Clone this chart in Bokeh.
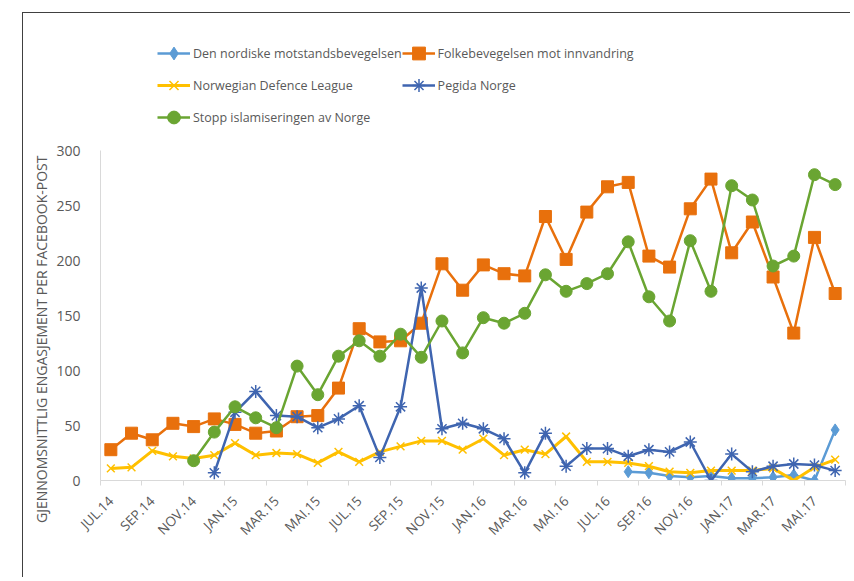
import math
import numpy as np
from bokeh.plotting import figure
from bokeh.models import (Range1d, FixedTicker, LinearAxis, Legend, LegendItem,
                          ColumnDataSource, Title)
from bokeh.embed import file_html
from bokeh.resources import INLINE

months = ["JUL.14", "AUG.14", "SEP.14", "OKT.14", "NOV.14", "DES.14",
          "JAN.15", "FEB.15", "MAR.15", "APR.15", "MAI.15", "JUN.15",
          "JUL.15", "AUG.15", "SEP.15", "OKT.15", "NOV.15", "DES.15",
          "JAN.16", "FEB.16", "MAR.16", "APR.16", "MAI.16", "JUN.16",
          "JUL.16", "AUG.16", "SEP.16", "OKT.16", "NOV.16", "DES.16",
          "JAN.17", "FEB.17", "MAR.17", "APR.17", "MAI.17", "JUN.17"]

den_nordiske = [None] * 25 + [8, 7, 4, 3, 4, 2, 2, 3, 5, 0, 46]
folkebevegelsen = [28, 43, 37, 52, 49, 56, 51, 43, 45, 58, 59, 84,
                   138, 126, 127, 143, 197, 173, 196, 188, 186, 240, 201, 244,
                   267, 271, 204, 194, 247, 274, 207, 235, 185, 134, 221, 170]
ndl = [11, 12, 27, 22, 20, 23, 34, 23, 25, 24, 16, 26,
       17, 26, 31, 36, 36, 28, 38, 23, 28, 24, 40, 17,
       17, 16, 13, 8, 7, 9, 9, 9, 11, 0, 12, 19]
pegida = [None] * 5 + [7, 62, 81, 59, 58, 48, 56,
                       68, 21, 67, 175, 47, 52, 47, 38, 7, 43, 13, 29,
                       29, 22, 28, 26, 35, 0, 24, 8, 13, 15, 14, 9]
stopp = [None] * 4 + [18, 44, 67, 57, 48, 104, 78, 113,
                      127, 113, 133, 112, 145, 116, 148, 143, 152, 187, 172, 179,
                      188, 217, 167, 145, 218, 172, 268, 255, 195, 204, 278, 269]

series_names = ["Den nordiske motstandsbevegelsen", "Folkebevegelsen mot innvandring",
                "Norwegian Defence League", "Pegida Norge", "Stopp islamiseringen av Norge"]
y_ticks = [0, 50, 100, 150, 200, 250, 300]
y_title = "GJENNOMSNITTLIG ENGASJEMENT PER FACEBOOK-POST"

FONT = "Open Sans"
GREY = "#595959"

# frame spans from window y=30 (legend area) to y=480; value 300 sits at y=150
Y_TOP = 300 * (480 - 30) / (480 - 150)

p = figure(width=828, height=565, output_backend="svg", toolbar_location=None,
           x_range=Range1d(-0.5, len(months) - 0.5), y_range=Range1d(0, Y_TOP),
           min_border_left=77, min_border_right=6, min_border_top=17,
           min_border_bottom=98, x_axis_type=None, y_axis_type=None)
p.outline_line_color = None
p.background_fill_color = "white"
p.border_fill_color = "white"
p.margin = (12, 0, 0, 22)
p.styles = {"border-left": "1px solid #404040", "border-top": "1px solid #404040"}

# y axis
yax = LinearAxis(ticker=FixedTicker(ticks=y_ticks), bounds=(0, 300))
yax.axis_line_color = "#d9d9d9"
yax.major_tick_line_color = None
yax.minor_tick_line_color = None
yax.major_label_standoff = 14
yax.major_label_text_font = FONT
yax.major_label_text_font_size = "14px"
yax.major_label_text_color = GREY
p.add_layout(yax, "left")
p.ygrid.grid_line_color = "#d9d9d9"
p.ygrid.ticker = FixedTicker(ticks=y_ticks)

# y axis title, as a side title
ttl = Title(text=y_title, align="right", offset=125, standoff=6,
            text_font=FONT, text_font_size="14px", text_font_style="normal",
            text_color=GREY)
p.add_layout(ttl, "left")

# x axis: tick marks at category boundaries
n = len(months)
bounds = [i - 0.5 for i in range(0, n + 1, 2)]
xax_ticks = LinearAxis(ticker=FixedTicker(ticks=bounds))
xax_ticks.axis_line_color = "#d9d9d9"
xax_ticks.major_tick_line_color = "#d9d9d9"
xax_ticks.major_tick_out = 5
xax_ticks.major_tick_in = 0
xax_ticks.minor_tick_line_color = None
xax_ticks.major_label_overrides = {b: "" for b in bounds}
xax_ticks.major_label_standoff = 0
p.add_layout(xax_ticks, "below")

# x axis: labels at category centers
label_pos = list(range(0, n, 2))
xax_lab = LinearAxis(ticker=FixedTicker(ticks=label_pos))
xax_lab.axis_line_color = None
xax_lab.major_tick_line_color = None
xax_lab.minor_tick_line_color = None
xax_lab.major_label_overrides = {i: months[i] for i in label_pos}
xax_lab.major_label_orientation = math.pi / 4
xax_lab.major_label_text_font = FONT
xax_lab.major_label_text_font_size = "13.5px"
xax_lab.major_label_text_color = GREY
xax_lab.major_label_standoff = 7
p.add_layout(xax_lab, "below")

x_all = np.arange(n)


def src(vals):
    arr = np.array([np.nan if v is None else v for v in vals], dtype=float)
    return ColumnDataSource(dict(x=x_all, y=arr))


styles = [
    (den_nordiske, "#5B9BD5", "diamond", 12, 2.5),
    (folkebevegelsen, "#E8700C", "square", 12, 2.5),
    (ndl, "#FFC000", "x", 11, 3),
    (pegida, "#3F65B0", "asterisk", 13, 2.5),
    (stopp, "#6AA532", "circle", 12, 2.5),
]

items = {}
for name, (vals, color, marker, size, lw) in zip(series_names, styles):
    s = src(vals)
    ln = p.line("x", "y", source=s, line_color=color, line_width=lw, line_join="round")
    if marker in ("x", "asterisk"):
        sc = p.scatter("x", "y", source=s, marker=marker, size=size,
                       line_color=color, line_width=1.5, fill_color=None)
    else:
        sc = p.scatter("x", "y", source=s, marker=marker, size=size,
                       line_color=color, fill_color=color)
    items[name] = LegendItem(label=name, renderers=[ln, sc])

# legend fills column by column: rows read Den|Folk, NDL|Pegida, Stopp
legend_order = [series_names[0], series_names[2], series_names[4],
                series_names[1], series_names[3]]
legend = Legend(items=[items[k] for k in legend_order], location=(57, 347),
                orientation="vertical", ncols=2,
                label_text_font=FONT, label_text_font_size="12.5px",
                label_text_color=GREY, glyph_width=33, glyph_height=32,
                label_height=32, label_standoff=3, spacing=0, padding=0,
                margin=0, border_line_color=None, background_fill_alpha=0)
p.add_layout(legend, "center")

open("out.html", "w").write(file_html(p, INLINE))
